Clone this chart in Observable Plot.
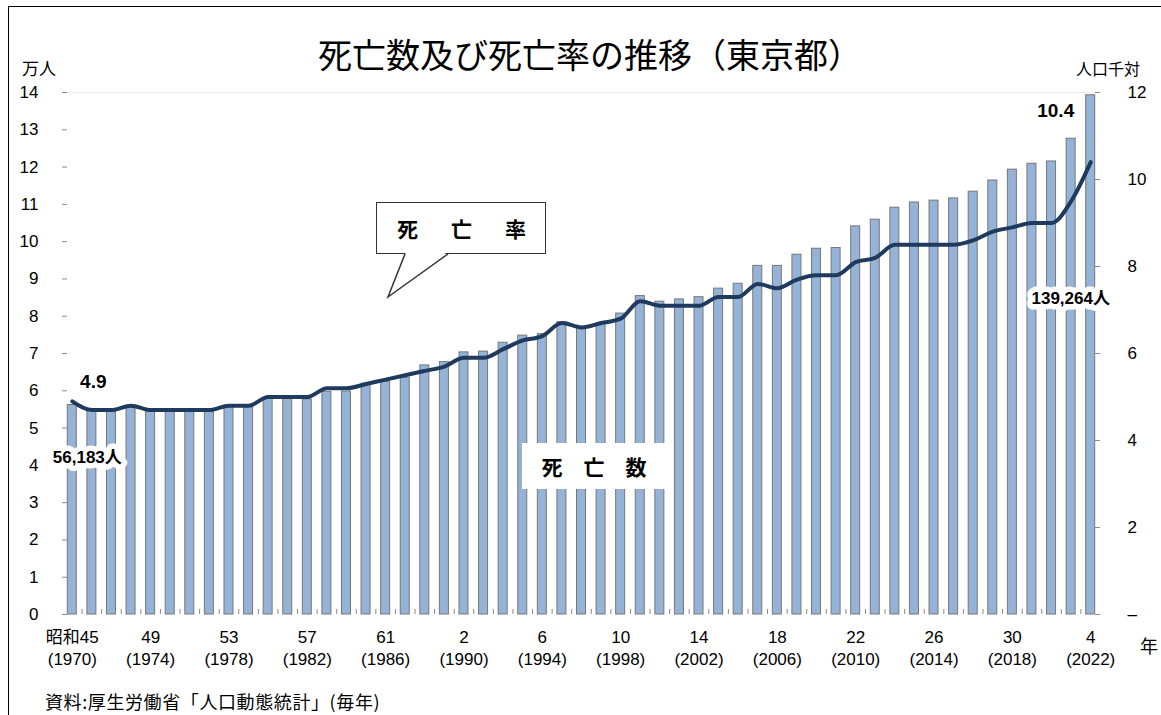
<!DOCTYPE html>
<html><head><meta charset="utf-8">
<script src="https://cdn.jsdelivr.net/npm/d3@7"></script>
<script src="https://cdn.jsdelivr.net/npm/@observablehq/plot@0.6"></script>
<style>
body{margin:0;background:#fff;}
#wrap{position:relative;width:1161px;height:715px;overflow:hidden;font-family:"Noto Sans CJK JP",sans-serif;color:#000;}
#frame{position:absolute;left:8px;top:6px;width:1300px;height:900px;border-left:1.5px solid #000;border-top:1.5px solid #000;}
.abs{position:absolute;white-space:nowrap;}
#chart{left:0;top:0;}
</style></head><body>
<div id="wrap">
  <div id="frame"></div>
  <div id="chart" class="abs"></div>
  <div class="abs" style="left:0;width:1180px;top:34px;text-align:center;font-size:34px;line-height:40px;">死亡数及び死亡率の推移（東京都）</div>
  <div class="abs" style="left:22px;top:58px;font-size:17px;line-height:20px;">万人</div>
  <div class="abs" style="left:1076px;top:58px;font-size:16px;line-height:20px;">人口千対</div>
  <div class="abs" style="left:1140px;top:634px;font-size:18px;line-height:22px;">年</div>
  <div class="abs" style="left:45px;top:690px;font-size:18px;line-height:22px;letter-spacing:0.6px;">資料:厚生労働省「人口動態統計」(毎年)</div>
  <div class="abs" style="left:376px;top:202px;width:168px;height:50px;border:1.5px solid #333;background:#fff;"></div>
  <svg class="abs" style="left:0;top:0;overflow:visible" width="1161" height="715">
    <polygon points="406,252 388,297 447,252" fill="#fff"/>
    <polyline points="405,254 388,297 448,254" fill="none" stroke="#333" stroke-width="1.5"/>
  </svg>
  <div class="abs" style="left:376px;top:208px;width:171px;text-align:center;font-size:21px;font-weight:bold;line-height:40px;letter-spacing:6px;text-indent:6px;">死　亡　率</div>
  <div class="abs" style="left:522px;top:443px;width:144px;height:46px;background:#fff;text-align:center;font-size:21px;font-weight:bold;line-height:46px;">死　亡　数</div>
</div>
<script>
// Categories: calendar years
const years = [1970,1971,1972,1973,1974,1975,1976,1977,1978,1979,
  1980,1981,1982,1983,1984,1985,1986,1987,1988,1989,
  1990,1991,1992,1993,1994,1995,1996,1997,1998,1999,
  2000,2001,2002,2003,2004,2005,2006,2007,2008,2009,
  2010,2011,2012,2013,2014,2015,2016,2017,2018,2019,
  2020,2021,2022];
// 死亡数 (万人)
const deaths = [5.6183,5.45,5.45,5.57,5.46,5.44,5.45,5.44,5.56,5.56,
  5.78,5.78,5.77,5.97,5.98,6.19,6.24,6.35,6.68,6.77,
  7.03,7.05,7.29,7.48,7.52,7.84,7.70,7.80,8.07,8.54,
  8.39,8.45,8.51,8.74,8.87,9.35,9.35,9.65,9.81,9.83,
  10.41,10.59,10.91,11.05,11.10,11.16,11.34,11.64,11.93,12.09,
  12.15,12.76,13.9264];
// 死亡率 (人口千対)
const rates = [4.9,4.7,4.7,4.8,4.7,4.7,4.7,4.7,4.8,4.8,
  5.0,5.0,5.0,5.2,5.2,5.3,5.4,5.5,5.6,5.7,
  5.9,5.9,6.1,6.3,6.4,6.7,6.6,6.7,6.8,7.2,
  7.1,7.1,7.1,7.3,7.3,7.6,7.5,7.7,7.8,7.8,
  8.1,8.2,8.5,8.5,8.5,8.5,8.6,8.8,8.9,9.0,
  9.0,9.5,10.4];
// x tick labels
const tickYears = [1970,1974,1978,1982,1986,1990,1994,1998,2002,2006,2010,2014,2018,2022];
const eraLabels = ["昭和45","49","53","57","61","2","6","10","14","18","22","26","30","4"];
const leftTicks = [0,1,2,3,4,5,6,7,8,9,10,11,12,13,14];
const rightTicks = [0,2,4,6,8,10,12];

const W = 1161, H = 715, mL = 62, mR = 61, mT = 92, mB = 101;
const k = 14 / 12; // right-axis (0–12) to left-axis (0–14)
const innerW = W - mL - mR, innerH = H - mT - mB;
const step = innerW / years.length;
const data = years.map((year, i) => ({year, deaths: deaths[i], rate: rates[i]}));
const first = data[0], last = data[data.length - 1];
const fmtPeople = v => d3.format(",")(Math.round(v * 10000)) + "人";
const rightYs = rightTicks.map(v => v * k);
const axisColor = "#8a8a8a";

const chart = Plot.plot({
  width: W, height: H,
  marginLeft: mL, marginRight: mR, marginTop: mT, marginBottom: mB,
  style: {fontFamily: '"Liberation Sans","Noto Sans CJK JP",sans-serif', fontSize: "17px", color: "#000", background: "transparent", overflow: "visible"},
  x: {type: "band", domain: years, paddingInner: 0.54, paddingOuter: 0.27, axis: null},
  y: {domain: [0, 14], axis: null},
  marks: [
    Plot.ruleY([14], {stroke: "#ececec"}),
    Plot.barY(data, {x: "year", y: "deaths", fill: "#95B3D7", stroke: "#777", strokeWidth: 1}),
    Plot.ruleX(years.slice(1), {x: d => d, dx: -step / 2, insetTop: innerH - 5, stroke: axisColor}),
    Plot.line(data, {x: "year", y: d => d.rate * k, stroke: "#1F3A5F", strokeWidth: 4, curve: "monotone-x"}),
    Plot.axisY(leftTicks, {anchor: "left", tickSize: 0, tickPadding: 24, line: true, stroke: axisColor, label: null}),
    Plot.ruleY(leftTicks, {y: d => d, insetRight: innerW - 5, stroke: axisColor}),
    Plot.axisY(rightYs, {anchor: "right", tickSize: 0, tickPadding: 27, line: true, stroke: axisColor, label: null,
      tickFormat: d => { const v = Math.round(d / k); return v === 0 ? "–" : String(v); }}),
    Plot.ruleY(rightYs, {y: d => d, insetLeft: innerW - 5, stroke: axisColor}),
    Plot.axisX(tickYears, {anchor: "bottom", tickSize: 0, tickPadding: 13, line: true, stroke: axisColor, label: null,
      lineHeight: 1.3, tickFormat: d => eraLabels[tickYears.indexOf(d)] + "\n(" + d + ")"}),
    Plot.text([first], {x: "year", y: "deaths", text: d => fmtPeople(d.deaths), dx: 15, dy: 53,
      fontWeight: "bold", fontSize: 17, fill: "#000", stroke: "#fff", strokeWidth: 11, strokeLinejoin: "round"}),
    Plot.text([last], {x: "year", y: "deaths", text: d => fmtPeople(d.deaths), dx: -20, dy: 203,
      fontWeight: "bold", fontSize: 17, fill: "#000", stroke: "#fff", strokeWidth: 11, strokeLinejoin: "round"}),
    Plot.text([first], {x: "year", y: d => d.rate * k, text: d => d.rate.toFixed(1), dx: 21, dy: -19,
      fontWeight: "bold", fontSize: 19}),
    Plot.text([last], {x: "year", y: d => d.rate * k, text: d => d.rate.toFixed(1), dx: -35, dy: -51,
      fontWeight: "bold", fontSize: 19})
  ]
});
document.getElementById("chart").appendChild(chart);
</script>
</body></html>
